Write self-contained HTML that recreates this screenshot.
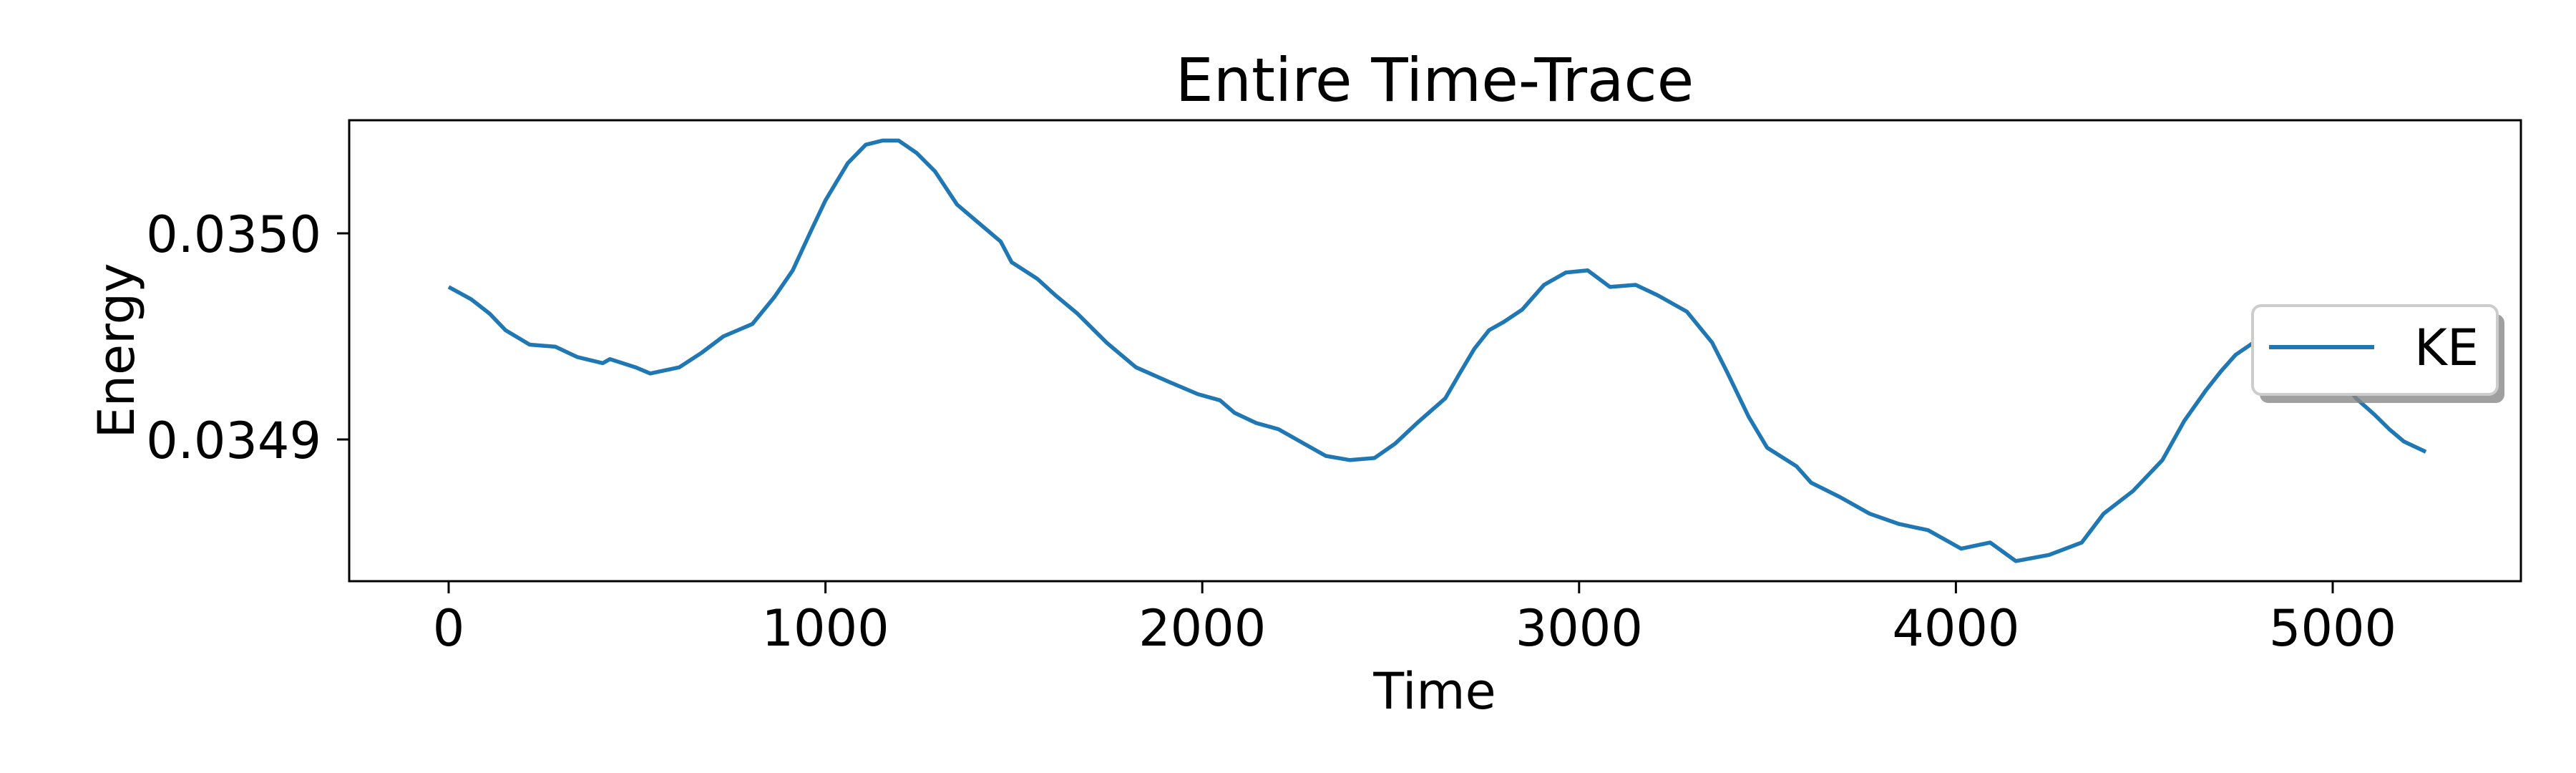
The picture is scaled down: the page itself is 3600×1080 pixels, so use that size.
<!DOCTYPE html>
<html><head><meta charset="utf-8"><style>
html,body{margin:0;padding:0;background:#fff;}
svg{display:block;}
text{font-family:"DejaVu Sans","Liberation Sans",sans-serif;fill:#000;}
</style></head><body>
<svg id="chart" width="3600" height="1080" viewBox="0 0 3600 1080" xmlns="http://www.w3.org/2000/svg">
<rect x="0" y="0" width="3600" height="1080" fill="#fff"/>
<text x="2005" y="141" font-size="84" text-anchor="middle">Entire Time-Trace</text>
<g id="plot"></g>
<rect x="488" y="168" width="3035" height="644" fill="none" stroke="#000" stroke-width="3"/>
<g id="xticks"></g>
<g id="yticks"></g>
<text x="2005" y="990" font-size="70" text-anchor="middle">Time</text>
<text transform="translate(187,490) rotate(-90)" font-size="70" text-anchor="middle">Energy</text>
<g>
<rect x="3158" y="439" width="342" height="124" rx="12" fill="#888" opacity="0.8"/>
<rect x="3148" y="427" width="342" height="124" rx="12" fill="#fff" stroke="#ccc" stroke-width="4"/>
<line x1="3171" y1="485" x2="3318" y2="485" stroke="#1f77b4" stroke-width="6"/>
<text x="3374" y="510" font-size="70">KE</text>
</g>
</svg>
<script>
const times = [0,60,109,151,215,283,341,409,428,496,535,612,671,729,806,864,913,961,1000,1059,1107,1151,1194,1242,1291,1349,1407,1465,1494,1562,1610,1669,1746,1824,1911,1988,2047,2085,2143,2202,2260,2328,2392,2457,2512,2570,2645,2683,2722,2761,2800,2849,2907,2965,3023,3082,3150,3208,3286,3353,3392,3450,3499,3577,3616,3693,3771,3849,3926,4014,4091,4159,4247,4334,4392,4470,4548,4606,4664,4703,4742,4790,4850,4950,5010,5062,5111,5150,5189,5247];
const energy = [0.034974,0.034968,0.034961,0.034953,0.034946,0.034945,0.034940,0.034937,0.034939,0.034935,0.034932,0.034935,0.034942,0.034950,0.034956,0.034969,0.034982,0.035001,0.035016,0.035034,0.035043,0.035045,0.035045,0.035039,0.035030,0.035014,0.035005,0.034996,0.034986,0.034978,0.034970,0.034961,0.034947,0.034935,0.034928,0.034922,0.034919,0.034913,0.034908,0.034905,0.034899,0.034892,0.034890,0.034891,0.034898,0.034908,0.034920,0.034932,0.034944,0.034953,0.034957,0.034963,0.034975,0.034981,0.034982,0.034974,0.034975,0.034970,0.034962,0.034947,0.034933,0.034911,0.034896,0.034887,0.034879,0.034872,0.034864,0.034859,0.034856,0.034847,0.034850,0.034841,0.034844,0.034850,0.034864,0.034875,0.034890,0.034909,0.034924,0.034933,0.034941,0.034947,0.034950,0.034946,0.034933,0.034920,0.034912,0.034905,0.034899,0.034894];
const xTickValues = [0,1000,2000,3000,4000,5000];
const xTickLabels = ["0","1000","2000","3000","4000","5000"];
const yTickValues = [0.0349,0.0350];
const yTickLabels = ["0.0349","0.0350"];

const NS = "http://www.w3.org/2000/svg";
function xScale(t){ return 627 + t * 0.5266; }
function yScale(e){ return 326 + (0.0350 - e) / 0.0001 * 288; }

const plot = document.getElementById('plot');
let d = '';
for (let i = 0; i < times.length; i++) {
  d += (i ? 'L' : 'M') + xScale(times[i]).toFixed(1) + ',' + yScale(energy[i]).toFixed(1);
}
const path = document.createElementNS(NS, 'path');
path.setAttribute('d', d);
path.setAttribute('fill', 'none');
path.setAttribute('stroke', '#1f77b4');
path.setAttribute('stroke-width', '5.5');
path.setAttribute('stroke-linejoin', 'round');


plot.appendChild(path);

const xg = document.getElementById('xticks');
xTickValues.forEach((v, i) => {
  const x = xScale(v);
  const ln = document.createElementNS(NS, 'line');
  ln.setAttribute('x1', x); ln.setAttribute('x2', x);
  ln.setAttribute('y1', 812); ln.setAttribute('y2', 829);
  ln.setAttribute('stroke', '#000'); ln.setAttribute('stroke-width', '3');
  
  
  xg.appendChild(ln);
  const tx = document.createElementNS(NS, 'text');
  tx.setAttribute('x', x); tx.setAttribute('y', 902);
  tx.setAttribute('font-size', '70'); tx.setAttribute('text-anchor', 'middle');
  tx.textContent = xTickLabels[i];
  
  
  xg.appendChild(tx);
});

const yg = document.getElementById('yticks');
yTickValues.forEach((v, i) => {
  const y = yScale(v);
  const ln = document.createElementNS(NS, 'line');
  ln.setAttribute('x1', 471); ln.setAttribute('x2', 488);
  ln.setAttribute('y1', y); ln.setAttribute('y2', y);
  ln.setAttribute('stroke', '#000'); ln.setAttribute('stroke-width', '3');
  
  
  yg.appendChild(ln);
  const tx = document.createElementNS(NS, 'text');
  tx.setAttribute('x', 449); tx.setAttribute('y', y + 26);
  tx.setAttribute('font-size', '70'); tx.setAttribute('text-anchor', 'end');
  tx.textContent = yTickLabels[i];
  
  
  yg.appendChild(tx);
});
</script>
</body></html>
